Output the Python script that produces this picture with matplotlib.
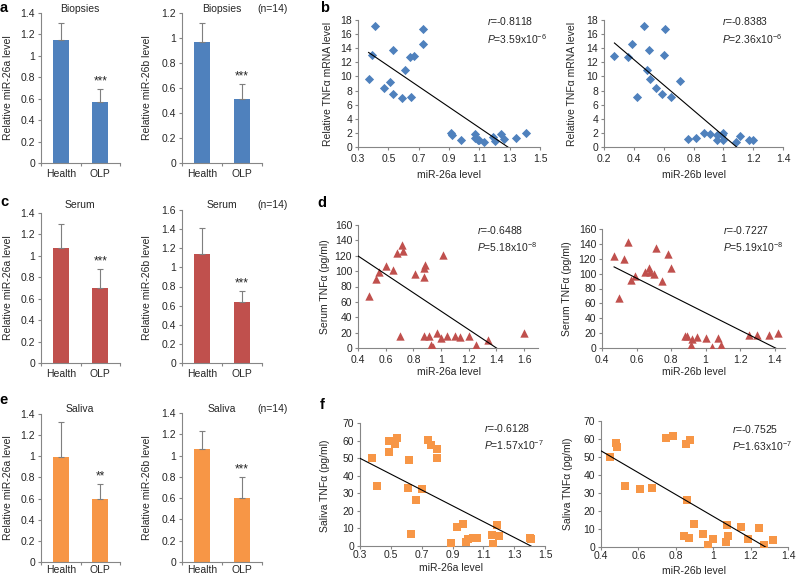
import numpy as np
import matplotlib
matplotlib.use("Agg")
import matplotlib.pyplot as plt
from matplotlib.ticker import FuncFormatter, MultipleLocator

plt.rcParams["font.family"] = ["Liberation Sans", "DejaVu Sans"]
plt.rcParams["font.size"] = 7.5
plt.rcParams["mathtext.fontset"] = "custom"
plt.rcParams["mathtext.rm"] = "Liberation Sans"
plt.rcParams["mathtext.it"] = "Liberation Sans:italic"

# bar data (mean, upper error)
bar_labels = ["Health", "OLP"]
biopsy_26a = [1.15, 0.57]
biopsy_26a_err = [0.16, 0.12]
biopsy_26b = [0.97, 0.51]
biopsy_26b_err = [0.15, 0.12]
serum_26a = [1.07, 0.70]
serum_26a_err = [0.23, 0.18]
serum_26b = [1.14, 0.64]
serum_26b_err = [0.27, 0.11]
saliva_26a = [0.99, 0.60]
saliva_26a_err = [0.33, 0.14]
saliva_26b = [1.06, 0.60]
saliva_26b_err = [0.17, 0.20]

# scatter data
b_26a_x = [0.41, 0.39, 0.37, 0.47, 0.51, 0.53, 0.53, 0.59, 0.65, 0.61, 0.64, 0.67, 0.73, 0.73,
           0.91, 0.92, 0.98, 1.07, 1.07, 1.09, 1.10, 1.13, 1.19, 1.20, 1.24, 1.26, 1.34, 1.41]
b_26a_y = [17.1, 13.0, 9.7, 8.3, 9.2, 13.7, 7.5, 7.0, 7.1, 10.9, 12.8, 12.9, 16.7, 14.6,
           2.0, 1.7, 1.0, 1.8, 1.3, 1.0, 1.0, 0.7, 1.4, 0.9, 1.8, 1.2, 1.3, 2.0]
b_26b_x = [0.27, 0.36, 0.385, 0.42, 0.47, 0.50, 0.49, 0.51, 0.55, 0.59, 0.60, 0.61, 0.65, 0.71,
           0.76, 0.82, 0.87, 0.91, 0.955, 0.96, 0.99, 1.0, 1.0, 1.085, 1.11, 1.17, 1.20]
b_26b_y = [12.9, 12.8, 14.6, 7.1, 17.2, 13.8, 10.9, 9.7, 8.3, 7.5, 13.0, 16.7, 7.1, 9.3,
           1.2, 1.3, 2.0, 1.8, 1.0, 1.7, 1.7, 2.0, 1.0, 0.7, 1.5, 1.0, 1.0]
d_26a_x = [0.48, 0.53, 0.55, 0.60, 0.655, 0.68, 0.715, 0.725, 0.70, 0.81, 0.875, 0.88, 0.88, 0.885,
           0.91, 0.925, 0.94, 0.97, 1.0, 1.015, 1.045, 1.10, 1.14, 1.20, 1.25, 1.34, 1.60]
d_26a_y = [67, 90, 99, 107, 101, 124, 134, 126, 15, 96, 16, 92, 104, 108,
           15, 4, 1, 19, 13, 121, 16, 16, 14, 16, 4, 11, 20]
d_26b_x = [0.47, 0.50, 0.53, 0.55, 0.57, 0.59, 0.65, 0.67, 0.68, 0.70, 0.71, 0.75, 0.78, 0.80,
           0.88, 0.89, 0.92, 0.915, 0.95, 1.0, 1.04, 1.07, 1.09, 1.25, 1.30, 1.37, 1.42]
d_26b_y = [124, 67, 120, 143, 92, 97, 102, 107, 102, 100, 134, 90, 126, 108,
           16, 16, 12, 4, 15, 14, 1.5, 14, 4, 17, 17, 17, 20]
f_26a_x = [0.38, 0.41, 0.49, 0.49, 0.525, 0.54, 0.62, 0.61, 0.63, 0.66, 0.70, 0.74, 0.76, 0.80, 0.80,
           0.89, 0.93, 0.965, 0.99, 1.0, 1.03, 1.06, 1.155, 1.165, 1.19, 1.20, 1.40, 1.41]
f_26a_y = [50, 34, 59.7, 53.5, 58, 61.5, 49, 33, 7, 26, 32.5, 60.6, 57.4, 55.3, 50.3,
           1.5, 11, 12.8, 2.4, 3.8, 4.3, 4.3, 6.2, 1.1, 12.2, 5.8, 4.7, 3.8]
f_26b_x = [0.45, 0.48, 0.485, 0.53, 0.61, 0.675, 0.75, 0.785, 0.855, 0.875, 0.86, 0.845, 0.87,
           0.895, 0.945, 0.97, 1.0, 1.075, 1.08, 1.07, 1.15, 1.185, 1.245, 1.27, 1.32]
f_26b_y = [50, 57.8, 55.6, 33.9, 32.2, 33, 60.6, 61.7, 57.5, 59.7, 26, 6.3, 5, 12.9,
           7.4, 0.9, 4.4, 12.3, 5.9, 2.8, 10.9, 4.6, 10.5, 1.3, 3.7]

# correlation text (r, P mantissa, P exponent)
stats = {
    "b1": ("-0.8118", "3.59", "-6"), "b2": ("-0.8383", "2.36", "-6"),
    "d1": ("-0.6488", "5.18", "-8"), "d2": ("-0.7227", "5.19", "-8"),
    "f1": ("-0.6128", "1.57", "-7"), "f2": ("-0.7525", "1.63", "-7"),
}
# trend lines (slope, intercept, starts at axis edge?)
trends = {
    "b1": (-14.6, 18.8, False), "b2": (-18.0, 19.6, False),
    "d1": (-119.8, 167.7, True), "d2": (-116.7, 163.9, False),
    "f1": (-45.0, 63.4, True), "f2": (-60.7, 77.7, True),
}

BLUE = "#4f81bd"
RED = "#c0504d"
ORANGE = "#f79646"
SPINE = "#868686"
TXT = "#262626"

W, H = 796, 577
fig = plt.figure(figsize=(W / 100, H / 100), dpi=100)


def add_ax(x0, x1, y0, y1):
    # pixel box -> figure fraction
    return fig.add_axes([x0 / W, 1 - y1 / H, (x1 - x0) / W, (y1 - y0) / H])


def ftext(x, y, s, **kw):
    kw.setdefault("color", TXT)
    fig.text(x / W, 1 - y / H, s, **kw)


def style(ax, xpad=2):
    for s in ["top", "right"]:
        ax.spines[s].set_visible(False)
    for s in ["left", "bottom"]:
        ax.spines[s].set_color(SPINE)
        ax.spines[s].set_linewidth(0.8)
    ax.tick_params(which="both", direction="out", length=2.2, width=0.8,
                   color=SPINE, labelcolor=TXT, labelsize=7.5, pad=2)
    ax.tick_params(axis="x", pad=xpad)
    ax.yaxis.set_major_formatter(FuncFormatter(lambda v, p: f"{v:g}"))
    ax.xaxis.set_major_formatter(FuncFormatter(lambda v, p: f"{v:g}"))


def bar_panel(ax, vals, errs, color, ymax, stars, lpad=4):
    x = np.arange(len(vals))
    ax.bar(x, vals, width=0.4, color=color)
    ax.errorbar(x, vals, yerr=[np.zeros(len(errs)), errs], fmt="none",
                ecolor="#7f7f7f", elinewidth=0.8, capsize=2, capthick=0.8)
    ax.set_xlim(-0.5, 1.5)
    ax.set_ylim(0, ymax)
    ax.yaxis.set_major_locator(MultipleLocator(0.2))
    style(ax)
    ax.set_xticks([-0.5, 0.5, 1.5])
    ax.set_xticklabels([])
    ax.set_xticks(x, minor=True)
    ax.set_xticklabels(bar_labels, minor=True)
    ax.tick_params(axis="x", which="minor", length=0, pad=lpad)
    ax.annotate(stars, (1, vals[1] + errs[1]), xytext=(0, 1), textcoords="offset points",
                ha="center", va="bottom", fontsize=8.5, color=TXT)


def scatter_panel(ax, xs, ys, color, marker, size, xlim, xstep, ylim, ystep, key, tx, ty, xpad):
    ax.scatter(xs, ys, marker=marker, s=size, color=color, linewidths=0, zorder=3)
    k, b, from_edge = trends[key]
    x0 = xlim[0] if from_edge else min(xs)
    xx = np.array([x0, max(xs)])
    ax.plot(xx, k * xx + b, color="black", lw=0.8, zorder=4)
    ax.set_xlim(*xlim)
    ax.set_ylim(*ylim)
    ax.xaxis.set_major_locator(MultipleLocator(xstep, offset=xlim[0] % xstep))
    ax.yaxis.set_major_locator(MultipleLocator(ystep))
    style(ax, xpad)
    r, p, e = stats[key]
    ax.text(tx, ty, f"$r$={r}", transform=ax.transAxes, ha="left", va="center",
            fontsize=7.5, color=TXT)
    ax.text(tx, ty - 0.14, f"$P$={p}x10$^{{{e}}}$", transform=ax.transAxes,
            ha="left", va="center", fontsize=7.5, color=TXT)


# ---- bar charts
axA1 = add_ax(41, 120, 13, 163)
bar_panel(axA1, biopsy_26a, biopsy_26a_err, BLUE, 1.4, "***")
axA2 = add_ax(182, 262, 13, 163)
bar_panel(axA2, biopsy_26b, biopsy_26b_err, BLUE, 1.2, "***")
axC1 = add_ax(41, 120, 213, 363)
bar_panel(axC1, serum_26a, serum_26a_err, RED, 1.4, "***")
axC2 = add_ax(182, 262, 210, 363)
bar_panel(axC2, serum_26b, serum_26b_err, RED, 1.6, "***")
axE1 = add_ax(41, 120, 414, 562)
bar_panel(axE1, saliva_26a, saliva_26a_err, ORANGE, 1.4, "**", lpad=2.5)
axE2 = add_ax(182, 262, 413, 562)
bar_panel(axE2, saliva_26b, saliva_26b_err, ORANGE, 1.4, "***", lpad=2.5)

# ---- scatter plots
axB1 = add_ax(358, 540, 20, 147)
scatter_panel(axB1, b_26a_x, b_26a_y, BLUE, "D", 22, (0.3, 1.5), 0.2, (0, 18), 2, "b1", 0.71, 0.99, 3)
axB2 = add_ax(604, 783, 20, 147)
scatter_panel(axB2, b_26b_x, b_26b_y, BLUE, "D", 22, (0.2, 1.4), 0.2, (0, 18), 2, "b2", 0.66, 0.99, 3)
axD1 = add_ax(358, 538, 225, 348)
scatter_panel(axD1, d_26a_x, d_26a_y, RED, "^", 36, (0.4, 1.7), 0.2, (0, 160), 20, "d1", 0.66, 0.96, 3)
axD2 = add_ax(602, 785, 229, 348)
scatter_panel(axD2, d_26b_x, d_26b_y, RED, "^", 36, (0.4, 1.46), 0.2, (0, 160), 20, "d2", 0.66, 0.99, 3)
axF1 = add_ax(360, 545, 423, 546)
scatter_panel(axF1, f_26a_x, f_26a_y, ORANGE, "s", 30, (0.3, 1.5), 0.2, (0, 70), 10, "f1", 0.67, 0.96, 0.5)
axF2 = add_ax(601, 788, 421, 547)
scatter_panel(axF2, f_26b_x, f_26b_y, ORANGE, "s", 30, (0.4, 1.4), 0.2, (0, 70), 10, "f2", 0.70, 0.94, 1)

# ---- titles / labels
for y, name in [(9, "Biopsies"), (205, "Serum"), (409, "Saliva")]:
    ftext(80, y, name, ha="center", va="center")
    ftext(222, y, name, ha="center", va="center")
    ftext(273, y, "(n=14)", ha="center", va="center")

for yc in [88, 288, 488]:
    ftext(8, yc, "Relative miR-26a level", rotation=90, ha="center", va="center")
    ftext(147, yc, "Relative miR-26b level", rotation=90, ha="center", va="center")

ftext(328, 84, "Relative TNFα mRNA level", rotation=90, ha="center", va="center")
ftext(572, 84, "Relative TNFα mRNA level", rotation=90, ha="center", va="center")
ftext(325, 287, "Serum TNFα (pg/ml)", rotation=90, ha="center", va="center")
ftext(567, 289, "Serum TNFα (pg/ml)", rotation=90, ha="center", va="center")
ftext(325, 486, "Saliva TNFα (pg/ml)", rotation=90, ha="center", va="center")
ftext(568, 484, "Saliva TNFα (pg/ml)", rotation=90, ha="center", va="center")

for yc in [175, 372]:
    ftext(449, yc, "miR-26a level", ha="center", va="center")
    ftext(694, yc, "miR-26b level", ha="center", va="center")
ftext(451, 568, "miR-26a level", ha="center", va="center")
ftext(694, 571, "miR-26b level", ha="center", va="center")

# panel letters
for x, y, s in [(4, 8, "a"), (325, 8, "b"), (4, 202, "c"), (322, 203, "d"),
                (4, 400, "e"), (322, 405, "f")]:
    ftext(x, y, s, ha="center", va="center", fontsize=10.5, fontweight="bold", color="black")

fig.savefig("out.png", dpi=100)
